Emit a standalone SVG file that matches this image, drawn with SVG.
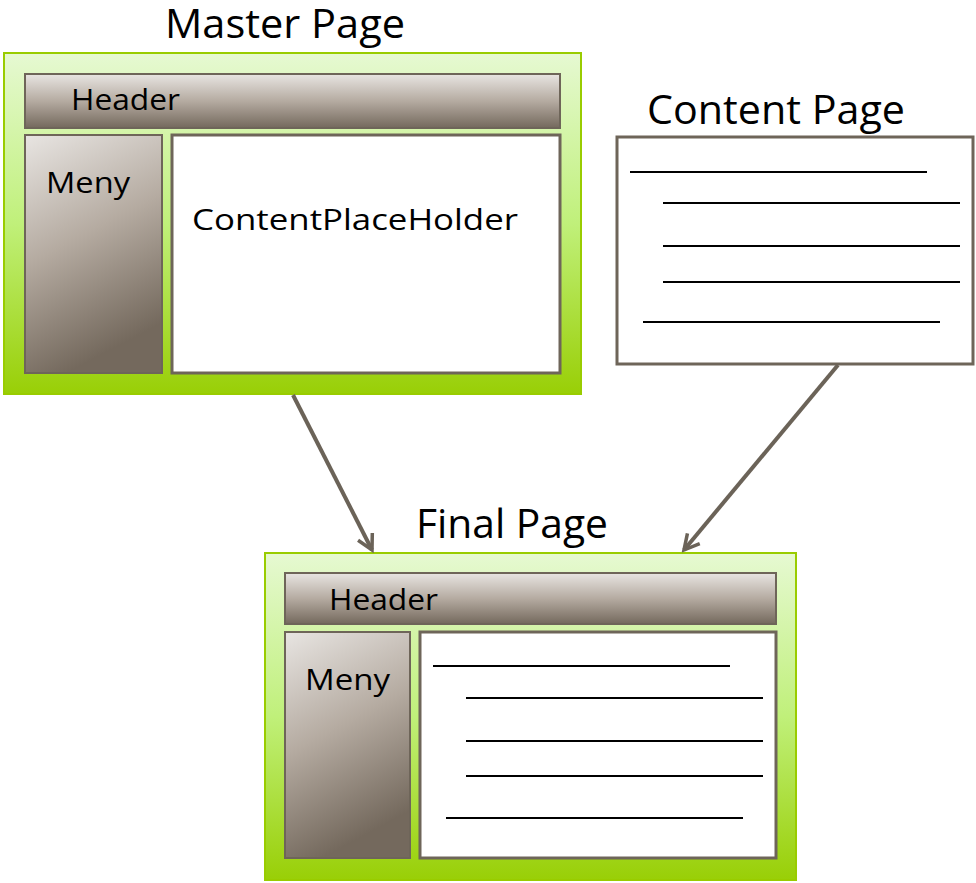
<svg xmlns="http://www.w3.org/2000/svg" width="976" height="883" viewBox="0 0 976 883">
<defs>
<linearGradient id="gPage" x1="0" y1="0" x2="0" y2="1">
<stop offset="0" stop-color="#e6f9d2"/>
<stop offset="0.5" stop-color="#c0f07a"/>
<stop offset="1" stop-color="#99cf06"/>
</linearGradient>
<linearGradient id="gHead" x1="0" y1="0" x2="0" y2="1">
<stop offset="0" stop-color="#e8e5e2"/>
<stop offset="0.5" stop-color="#b5aba1"/>
<stop offset="1" stop-color="#74695d"/>
</linearGradient>
<linearGradient id="gMeny" x1="0" y1="0" x2="0.3" y2="1">
<stop offset="0" stop-color="#e8e5e2"/>
<stop offset="0.5" stop-color="#b5aba1"/>
<stop offset="1" stop-color="#74695d"/>
</linearGradient>
<marker id="arr" viewBox="0 0 20 20" refX="17" refY="10" markerWidth="20" markerHeight="20" markerUnits="userSpaceOnUse" orient="auto">
<path d="M2,2 L17,10 L2,18" fill="none" stroke="#6b6358" stroke-width="3.5" stroke-linejoin="miter"/>
</marker>
</defs>
<style>
.page{fill:url(#gPage);stroke:#99cc00;stroke-width:2}
.head{fill:url(#gHead);stroke:#6e6559;stroke-width:2}
.meny{fill:url(#gMeny);stroke:#6e6559;stroke-width:2}
.box{fill:#ffffff;stroke:#6e6559;stroke-width:3}
.title{font-family:"Open Sans","Liberation Sans",sans-serif;font-size:41px;fill:#000}
.lbl{font-family:"Open Sans","Liberation Sans",sans-serif;font-size:30px;fill:#000}
.ln{stroke:#000;stroke-width:2}
.conn{stroke:#6b6358;stroke-width:4;fill:none}
</style>
<g id="master-page">
<text class="title" x="165" y="38" textLength="240" lengthAdjust="spacingAndGlyphs">Master Page</text>
<rect class="page" x="4" y="53" width="577" height="341"/>
<rect class="head" x="25" y="74" width="535" height="54"/>
<text class="lbl" x="71" y="110" textLength="109" lengthAdjust="spacingAndGlyphs">Header</text>
<rect class="meny" x="25" y="135" width="137" height="238"/>
<text class="lbl" x="46" y="193" textLength="84" lengthAdjust="spacingAndGlyphs">Meny</text>
<rect class="box" x="172" y="135" width="388" height="238"/>
<text class="lbl" x="192" y="230" textLength="326" lengthAdjust="spacingAndGlyphs">ContentPlaceHolder</text>
</g>
<g id="content-page">
<text class="title" x="647" y="124" textLength="258" lengthAdjust="spacingAndGlyphs">Content Page</text>
<rect class="box" x="617" y="137" width="356" height="227"/>
<line class="ln" x1="630" y1="172" x2="927" y2="172"/>
<line class="ln" x1="663" y1="203" x2="960" y2="203"/>
<line class="ln" x1="663" y1="246" x2="960" y2="246"/>
<line class="ln" x1="663" y1="282" x2="960" y2="282"/>
<line class="ln" x1="643" y1="322" x2="940" y2="322"/>
</g>
<g id="final-page">
<text class="title" x="416" y="538" textLength="192" lengthAdjust="spacingAndGlyphs">Final Page</text>
<rect class="page" x="265" y="553" width="531" height="327"/>
<rect class="head" x="285" y="573" width="491" height="51"/>
<text class="lbl" x="329" y="610" textLength="109" lengthAdjust="spacingAndGlyphs">Header</text>
<rect class="meny" x="285" y="632" width="125" height="226"/>
<text class="lbl" x="305" y="690" textLength="85" lengthAdjust="spacingAndGlyphs">Meny</text>
<rect class="box" x="420" y="632" width="356" height="226"/>
<line class="ln" x1="433" y1="666" x2="730" y2="666"/>
<line class="ln" x1="466" y1="698" x2="763" y2="698"/>
<line class="ln" x1="466" y1="741" x2="763" y2="741"/>
<line class="ln" x1="466" y1="776" x2="763" y2="776"/>
<line class="ln" x1="446" y1="818" x2="743" y2="818"/>
</g>
<g id="connectors">
<line class="conn" x1="293" y1="395" x2="372" y2="550" marker-end="url(#arr)"/>
<line class="conn" x1="838" y1="365" x2="684" y2="550" marker-end="url(#arr)"/>
</g>
</svg>
